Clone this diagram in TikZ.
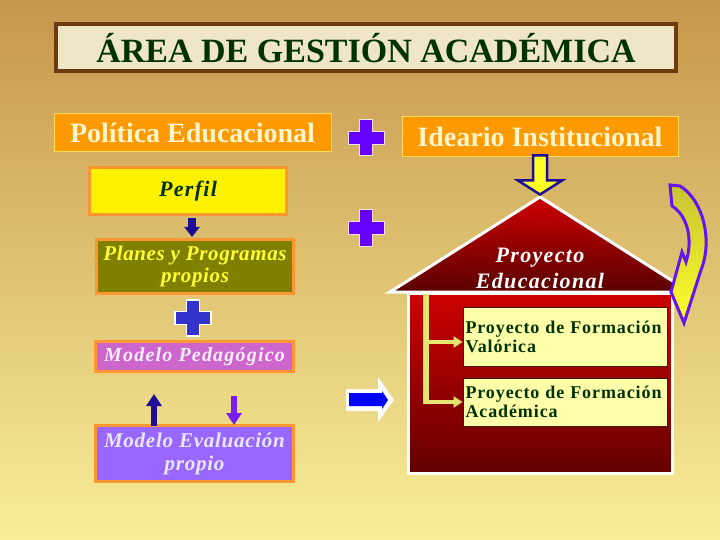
\documentclass[tikz,border=0pt]{standalone}
\usepackage{fontspec}
\setmainfont{Liberation Serif}
\usetikzlibrary{arrows.meta}
\definecolor{bgtop}{RGB}{198,150,76}
\definecolor{bgmid}{RGB}{229,201,114}
\definecolor{bgbot}{RGB}{248,238,152}
\definecolor{titlefill}{RGB}{238,230,196}
\definecolor{titleborder}{RGB}{108,58,14}
\definecolor{dkgreen}{RGB}{0,50,0}
\definecolor{orangebox}{RGB}{255,153,0}
\definecolor{orangeedge}{RGB}{255,220,90}
\definecolor{creamtext}{RGB}{255,246,205}
\definecolor{boxedge}{RGB}{255,150,50}
\definecolor{olivebox}{RGB}{128,128,0}
\definecolor{olivetext}{RGB}{255,255,51}
\definecolor{pinkbox}{RGB}{204,102,204}
\definecolor{pinktext}{RGB}{255,238,255}
\definecolor{violetbox}{RGB}{153,102,255}
\definecolor{violettext}{RGB}{232,232,255}
\definecolor{plusviolet}{RGB}{102,0,255}
\definecolor{plusblue}{RGB}{51,51,204}
\definecolor{plusedge}{RGB}{255,225,235}
\definecolor{navyarrow}{RGB}{30,14,150}
\definecolor{purplearrow}{RGB}{120,30,240}
\definecolor{redtop}{RGB}{205,0,0}
\definecolor{redbot}{RGB}{100,0,0}
\definecolor{paleyellow}{RGB}{255,255,170}
\definecolor{paleedge}{RGB}{60,25,0}
\definecolor{bracketcol}{RGB}{228,228,110}
\definecolor{arrowyellow}{RGB}{255,255,40}
\definecolor{arrowolive}{RGB}{200,195,50}
\definecolor{curveedge}{RGB}{100,20,240}
\definecolor{bluearrow}{RGB}{0,0,255}
\tikzset{
  titlebox/.style={draw=titleborder, line width=4pt, fill=titlefill, text=dkgreen,
    minimum width=620pt, minimum height=47pt, inner sep=0pt,
    font=\fontsize{34}{36}\selectfont\bfseries},
  headbox/.style={draw=orangeedge, line width=1pt, fill=orangebox, text=creamtext,
    minimum width=276pt, minimum height=38pt, inner sep=0pt,
    font=\fontsize{28}{30}\selectfont\bfseries},
  sidebox/.style={draw=boxedge, line width=3pt, minimum width=197pt, inner sep=0pt,
    align=center, font=\fontsize{21}{22}\selectfont\bfseries\itshape\addfontfeature{LetterSpace=3}},
  innerbox/.style={draw=paleedge, line width=1pt, fill=paleyellow, text=dkgreen,
    text width=199pt, inner xsep=2.5pt, inner ysep=0pt, align=left,
    font=\fontsize{18}{19}\selectfont\bfseries\addfontfeature{LetterSpace=5}},
  pics/crossmark/.style={code={
    \filldraw[pic actions] (-18,-6.5) -- (-6.5,-6.5) -- (-6.5,-18) -- (6.5,-18) -- (6.5,-6.5)
      -- (18,-6.5) -- (18,6.5) -- (6.5,6.5) -- (6.5,18) -- (-6.5,18) -- (-6.5,6.5) -- (-18,6.5) -- cycle;}},
}
\begin{document}
\begin{tikzpicture}[x=1pt,y=-1pt]
% background
\shade[top color=bgtop, middle color=bgmid, bottom color=bgbot] (0,0) rectangle (720,540);
\useasboundingbox (0,0) rectangle (720,540);

% title
\node[titlebox] (title) at (366,48) {ÁREA DE GESTIÓN ACADÉMICA};

% header boxes
\node[headbox, minimum width=277pt] (politica) at (192.5,133) {Política Educacional};
\node[headbox, minimum height=40pt] (ideario) at (540,137) {Ideario Institucional};

% plus signs
\pic[fill=plusviolet, draw=plusedge, line width=1pt] at (366,138) {crossmark};
\pic[fill=plusviolet, draw=plusedge, line width=1pt] at (366,228) {crossmark};
\pic[fill=plusblue, draw=white, line width=1.5pt] at (193,318) {crossmark};

% left column
\node[sidebox, fill=yellow, text=dkgreen, minimum height=47pt, font=\fontsize{22}{24}\selectfont\bfseries\itshape\addfontfeature{LetterSpace=6}] (perfil) at (188,191.5) {Perfil};
\node[sidebox, fill=olivebox, text=olivetext, minimum height=54pt] (planes) at (195,266.5) {Planes y Programas\\propios};
\node[sidebox, fill=pinkbox, text=pinktext, minimum width=198pt, minimum height=30pt, font=\fontsize{20}{22}\selectfont\bfseries\itshape\addfontfeature{LetterSpace=6}] (pedagogico) at (194.5,356.5) {Modelo Pedagógico};
\node[sidebox, fill=violetbox, text=violettext, minimum width=198pt, minimum height=56pt, font=\fontsize{21}{23}\selectfont\bfseries\itshape\addfontfeature{LetterSpace=3.5}] (evaluacion) at (194.5,453.5) {Modelo Evaluación\\propio};

\coordinate (pa) at (192,0);
\draw[navyarrow, line width=8pt, -{Triangle[width=15pt,length=10pt]}] ([yshift=-1.5pt]pa |- perfil.south) -- ([yshift=1pt]pa |- planes.north);

\coordinate (uptip) at (154,394);
\coordinate (downtop) at (234,396);
\draw[navyarrow, line width=6pt, -{Triangle[width=15pt,length=12pt]}] ([yshift=-1.5pt]uptip |- evaluacion.north) -- (uptip);
\draw[purplearrow, line width=6pt, -{Triangle[width=15pt,length=12pt]}] (downtop) -- ([yshift=-1pt]downtop |- evaluacion.north);

% blue right arrow
\coordinate (ra) at (346,400);
\fill[white] (ra) ++(0,-11) -- ++(32,0) -- ++(0,-12) -- ++(16,23) -- ++(-16,22) -- ++(0,-11) -- ++(-32,0) -- cycle;
\fill[bluearrow] (ra) ++(3,-7) -- ++(33,0) -- ++(0,-2) -- ++(6,9) -- ++(-6,9) -- ++(0,-3) -- ++(-33,0) -- cycle;

% house
\node[draw=white, line width=3pt, top color=redtop, bottom color=redbot, minimum width=264pt, minimum height=180pt, inner sep=0pt] (body) at (540,383) {};
\coordinate (apex) at (540,197);
\filldraw[draw=white, line width=3pt, line join=miter, top color=redtop, bottom color=redbot!90!black] (apex) -- (690,292) -- (390,292) -- cycle;
\node[text=white, align=center, font=\fontsize{22}{26}\selectfont\bfseries\itshape\addfontfeature{LetterSpace=6}] (proyecto) at (540,268) {Proyecto\\Educacional};

% ideario -> roof arrow
\begin{scope}[shift={(ideario.south)}]
\filldraw[fill=arrowyellow, draw=navyarrow, line width=2.5pt, line join=miter]
  (-7,-2) -- (7,-2) -- (7,23) -- (22,23) -- (0,37) -- (-22,23) -- (-7,23) -- cycle;
\end{scope}

% inner boxes
\node[innerbox, minimum height=59pt] (valorica) at (565,336.5) {Proyecto de Formación\\Valórica};
\node[innerbox, minimum height=48pt] (academica) at (565,402) {Proyecto de Formación\\Académica};

\coordinate (brtop) at (426,294);
\coordinate (brmid) at (426,342);
\draw[bracketcol, line width=6pt] (brtop) -- ([yshift=2pt]brtop |- academica.west);
\draw[bracketcol, line width=4pt, -{Triangle[width=11pt,length=9pt]}] ([xshift=-3pt]brtop |- academica.west) -- (academica.west);
\draw[bracketcol, line width=4pt, -{Triangle[width=11pt,length=9pt]}] (brmid) -- (brmid -| valorica.west);

% curved arrow
\filldraw[top color=arrowolive, bottom color=arrowyellow, draw=curveedge, line width=3pt, line join=miter]
  (670,185) -- (680,186) .. controls (703,200) and (713,240) .. (701,270)
  -- (684,323) -- (671,292) -- (682,252) -- (686,262)
  .. controls (693,240) and (688,216) .. (672,206) -- cycle;
\end{tikzpicture}
\end{document}
